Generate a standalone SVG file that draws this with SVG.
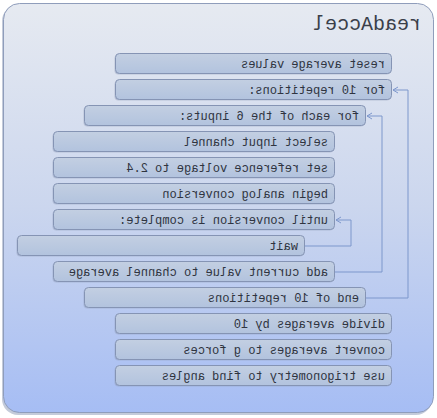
<svg xmlns="http://www.w3.org/2000/svg" width="437" height="418" viewBox="0 0 437 418">
<defs>
<linearGradient id="bg" x1="0" y1="0" x2="0" y2="1">
<stop offset="0" stop-color="#e6eaf1"/>
<stop offset="0.5" stop-color="#cbd6ee"/>
<stop offset="1" stop-color="#a6bdf4"/>
</linearGradient>
<linearGradient id="bx" x1="0" y1="0" x2="0" y2="1">
<stop offset="0" stop-color="#c3cfe2"/>
<stop offset="1" stop-color="#b2c3de"/>
</linearGradient>
<marker id="ah" markerWidth="8" markerHeight="8" refX="6" refY="4" orient="auto" markerUnits="userSpaceOnUse">
<path d="M1,1 L6,4 L1,7" fill="none" stroke="#7d97cc" stroke-width="1"/>
</marker>
<style>
.box{fill:url(#bx);stroke:#8594b4;stroke-width:1}
.sh{fill:#8e9bb8;opacity:0.45}
.t{font-family:"Liberation Mono","DejaVu Sans Mono",monospace;font-size:12px;fill:#2f3440}
.c{fill:none;stroke:#7d97cc;stroke-width:1}
</style>
</defs>
<g transform="matrix(-1 0 0 1 437 0)">
<g id="panel">
<rect x="5" y="5" width="430" height="410" rx="16" fill="#8a98b6" opacity="0.5"/>
<rect x="3.5" y="3.5" width="430" height="409" rx="16" fill="url(#bg)" stroke="#8f9dbb" stroke-width="1"/>
<text x="16" y="30" font-family="'Liberation Mono','DejaVu Sans Mono',monospace" font-size="20" fill="#3a3f4a">readAccel</text>
</g>
<g id="connectors">
<polyline class="c" points="71,298 29,298 29,90 44,90" marker-end="url(#ah)"/>
<polyline class="c" points="102,272 55,272 55,116 70,116" marker-end="url(#ah)"/>
<polyline class="c" points="132,246 86,246 86,220 101,220" marker-end="url(#ah)"/>
</g>
<g id="n1"><rect class="sh" x="46.5" y="54.5" width="276" height="20" rx="4"/><rect class="box" x="45.5" y="53.5" width="276" height="20" rx="4"/><text class="t" x="52" y="67.5">reset average values</text></g>
<g id="n2"><rect class="sh" x="46.5" y="80.5" width="276" height="20" rx="4"/><rect class="box" x="45.5" y="79.5" width="276" height="20" rx="4"/><text class="t" x="52" y="93.5">for 10 repetitions:</text></g>
<g id="n3"><rect class="sh" x="72.5" y="106.5" width="281" height="20" rx="4"/><rect class="box" x="71.5" y="105.5" width="281" height="20" rx="4"/><text class="t" x="78" y="119.5">for each of the 6 inputs:</text></g>
<g id="n4"><rect class="sh" x="103.5" y="132.5" width="281" height="20" rx="4"/><rect class="box" x="102.5" y="131.5" width="281" height="20" rx="4"/><text class="t" x="109" y="145.5">select input channel</text></g>
<g id="n5"><rect class="sh" x="103.5" y="158.5" width="281" height="20" rx="4"/><rect class="box" x="102.5" y="157.5" width="281" height="20" rx="4"/><text class="t" x="109" y="171.5">set reference voltage to 2.4</text></g>
<g id="n6"><rect class="sh" x="103.5" y="184.5" width="281" height="20" rx="4"/><rect class="box" x="102.5" y="183.5" width="281" height="20" rx="4"/><text class="t" x="109" y="197.5">begin analog conversion</text></g>
<g id="n7"><rect class="sh" x="103.5" y="210.5" width="281" height="20" rx="4"/><rect class="box" x="102.5" y="209.5" width="281" height="20" rx="4"/><text class="t" x="109" y="223.5">until conversion is complete:</text></g>
<g id="n8"><rect class="sh" x="133.5" y="236.5" width="287" height="20" rx="4"/><rect class="box" x="132.5" y="235.5" width="287" height="20" rx="4"/><text class="t" x="139" y="249.5">wait</text></g>
<g id="n9"><rect class="sh" x="103.5" y="262.5" width="281" height="20" rx="4"/><rect class="box" x="102.5" y="261.5" width="281" height="20" rx="4"/><text class="t" x="109" y="275.5">add current value to channel average</text></g>
<g id="n10"><rect class="sh" x="72.5" y="288.5" width="281" height="20" rx="4"/><rect class="box" x="71.5" y="287.5" width="281" height="20" rx="4"/><text class="t" x="78" y="301.5">end of 10 repetitions</text></g>
<g id="n11"><rect class="sh" x="46.5" y="314.5" width="276" height="20" rx="4"/><rect class="box" x="45.5" y="313.5" width="276" height="20" rx="4"/><text class="t" x="52" y="327.5">divide averages by 10</text></g>
<g id="n12"><rect class="sh" x="46.5" y="340.5" width="276" height="20" rx="4"/><rect class="box" x="45.5" y="339.5" width="276" height="20" rx="4"/><text class="t" x="52" y="353.5">convert averages to g forces</text></g>
<g id="n13"><rect class="sh" x="46.5" y="366.5" width="276" height="20" rx="4"/><rect class="box" x="45.5" y="365.5" width="276" height="20" rx="4"/><text class="t" x="52" y="379.5">use trigonometry to find angles</text></g>
</g>
</svg>
